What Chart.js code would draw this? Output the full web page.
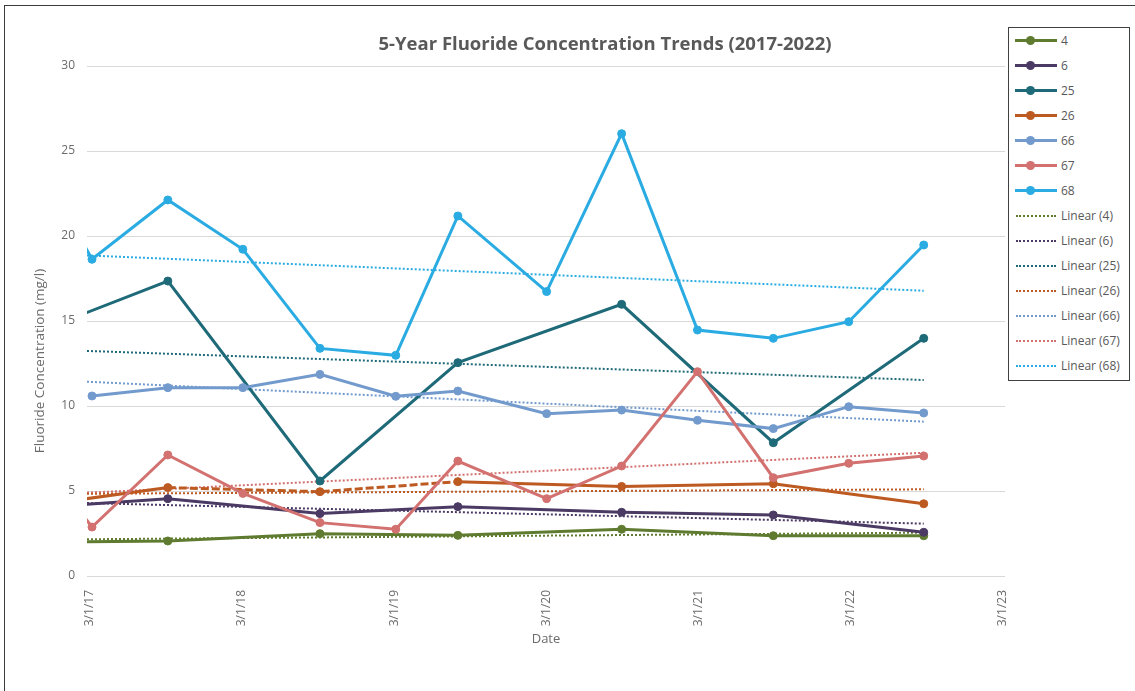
<!DOCTYPE html>
<html>
<head>
<meta charset="utf-8">
<script src="https://cdn.jsdelivr.net/npm/chart.js@4.4.1/dist/chart.umd.min.js"></script>
<style>
  html, body { margin: 0; padding: 0; background: #fff; overflow: hidden; }
  #wrap { position: relative; width: 1135px; height: 691px; }
  #frame { position: absolute; left: 4px; top: 5px; width: 1140px; height: 700px; border: 1px solid #3c3c3c; box-sizing: border-box; pointer-events: none; }
  #legend { position: absolute; left: 1008px; top: 27px; width: 122px; height: 354px; border: 1px solid #404040; box-sizing: border-box; background: #fff; font: 12px "Open Sans", sans-serif; color: #595959; }
  .row { position: relative; height: 25px; }
  .row .lab { position: absolute; left: 52px; top: 0; line-height: 25px; white-space: nowrap; }
  .row .ln { position: absolute; left: 6px; top: 11px; width: 42px; height: 3px; }
  .row .dot { position: absolute; left: 17px; top: 8px; width: 9px; height: 9px; border-radius: 50%; }
  .row .dl { position: absolute; left: 7px; top: 12px; width: 40px; height: 0; border-top: 2px dotted; }
</style>
</head>
<body>
<div id="wrap">
  <canvas id="myChart" width="1135" height="691"></canvas>
  <div id="legend"></div>
  <div id="frame"></div>
</div>
<script>
// 採取日 (春・秋) と 秋のみ
const springFallDates = ['2017-03-06', '2017-09-04', '2018-03-03', '2018-09-04', '2019-03-05', '2019-08-01',
                         '2020-03-01', '2020-08-28', '2021-02-26', '2021-08-27', '2022-02-24', '2022-08-23'];
const earlyDates = ['2017-01-24'].concat(springFallDates);
const fallDates = ['2016-09-01', '2017-09-04', '2018-09-04', '2019-08-01', '2020-08-28', '2021-08-27', '2022-08-23'];

const tickDates = ['2017-03-01', '2018-03-01', '2019-03-01', '2020-03-01', '2021-03-01', '2022-03-01', '2023-03-01'];
const tickLabels = ['3/1/17', '3/1/18', '3/1/19', '3/1/20', '3/1/21', '3/1/22', '3/1/23'];
const yTicks = [0, 5, 10, 15, 20, 25, 30];

const wellNames = ['4', '6', '25', '26', '66', '67', '68'];
const well4 = [1.98, 2.06, 2.49, 2.39, 2.75, 2.37, 2.37];
const well6 = [3.92, 4.55, 3.67, 4.08, 3.75, 3.59, 2.57];
const well25 = [13.84, 17.35, 5.59, 12.55, 15.98, 7.84, 13.98];
const well26 = [3.97, 5.2, 4.96, 5.55, 5.27, 5.43, 4.25];
const well66 = [10.59, 11.08, 11.08, 11.86, 10.57, 10.88, 9.55, 9.76, 9.16, 8.67, 9.96, 9.59];
const well67 = [4.18, 2.88, 7.12, 4.86, 3.14, 2.75, 6.76, 4.55, 6.47, 12.02, 5.78, 6.63, 7.06];
const well68 = [20.46, 18.63, 22.12, 19.22, 13.39, 12.98, 21.18, 16.73, 26.02, 14.47, 13.98, 14.96, 19.47];

// 近似直線 (左端の値, 最後の値)
const trendStart = [2.16, 4.29, 13.24, 4.84, 11.43, 4.9, 18.86];
const trendEnd = [2.55, 3.08, 11.53, 5.1, 9.08, 7.25, 16.78];

const colors = ['#5f7b30', '#4b3a63', '#1e6a79', '#bd5a22', '#729acd', '#d2716f', '#2aabe2'];

const toTime = d => Date.parse(d + 'T00:00:00Z');
const xMin = toTime('2017-02-22');
const xMax = toTime('2023-03-06');
const lastDate = toTime('2022-08-23');

const seriesDates = [fallDates, fallDates, fallDates, fallDates, springFallDates, earlyDates, earlyDates];
const seriesValues = [well4, well6, well25, well26, well66, well67, well68];

const datasets = [];
wellNames.forEach((name, i) => {
  const ds = {
    label: name,
    kind: 'series',
    data: seriesValues[i].map((v, j) => ({ x: toTime(seriesDates[i][j]), y: v })),
    borderColor: colors[i],
    backgroundColor: colors[i],
    borderWidth: 3,
    pointRadius: 4,
    pointBorderWidth: 1,
    pointHoverRadius: 4,
    tension: 0,
    order: -i,
    clip: { left: 0, top: 8, right: 8, bottom: 8 }
  };
  if (name === '26') {
    // 2017秋〜2019夏の区間は破線
    ds.segment = { borderDash: c => (c.p0DataIndex === 1 || c.p0DataIndex === 2) ? [8, 3] : undefined };
  }
  datasets.push(ds);
});
wellNames.forEach((name, i) => {
  datasets.push({
    label: 'Linear (' + name + ')',
    kind: 'trend',
    data: [{ x: xMin, y: trendStart[i] }, { x: lastDate, y: trendEnd[i] }],
    borderColor: colors[i],
    backgroundColor: colors[i],
    borderWidth: 2,
    borderDash: [2, 2],
    pointRadius: 0,
    order: 100
  });
});

const textColor = '#6b6b6b';
const titlePlugin = {
  id: 'chartTexts',
  afterDraw(chart) {
    const c = chart.ctx;
    c.save();
    c.fillStyle = '#595959';
    c.textAlign = 'center';
    c.textBaseline = 'middle';
    c.font = 'bold 18.5px "Open Sans"';
    c.fillText('5-Year Fluoride Concentration Trends (2017-2022)', 605, 45);
    c.fillStyle = textColor;
    c.translate(40, 361);
    c.rotate(-Math.PI / 2);
    c.font = '13.5px "Open Sans"';
    c.fillText('Fluoride Concentration (mg/l)', 0, 0);
    c.restore();
  }
};

const ctx = document.getElementById('myChart').getContext('2d');
const chart = new Chart(ctx, {
  type: 'line',
  data: { datasets: datasets },
  plugins: [titlePlugin],
  options: {
    responsive: false,
    animation: false,
    layout: { padding: { top: 66, right: 130, bottom: 0, left: 0 } },
    plugins: { legend: { display: false }, tooltip: { enabled: false } },
    scales: {
      x: {
        type: 'linear',
        min: xMin,
        max: xMax,
        afterBuildTicks: s => { s.ticks = tickDates.map(d => ({ value: toTime(d) })); },
        afterFit: s => { s.height = 115; },
        grid: { display: false },
        border: { display: false },
        ticks: {
          autoSkip: false,
          minRotation: 90,
          maxRotation: 90,
          padding: 6,
          color: textColor,
          font: { family: 'Open Sans', size: 12 },
          callback: (v, i) => tickLabels[i]
        },
        title: {
          display: true,
          text: 'Date',
          color: textColor,
          font: { family: 'Open Sans', size: 13 },
          padding: { top: 0, bottom: 44 }
        }
      },
      y: {
        min: 0,
        max: 30,
        afterBuildTicks: s => { s.ticks = yTicks.map(v => ({ value: v })); },
        afterFit: s => { s.width = 87; },
        grid: { color: '#d9d9d9', drawTicks: false },
        border: { display: false },
        ticks: {
          padding: 12,
          color: textColor,
          font: { family: 'Open Sans', size: 12 }
        }
      }
    }
  }
});

// 凡例 (HTML)
const legendEl = document.getElementById('legend');
chart.data.datasets.forEach(ds => {
  const row = document.createElement('div');
  row.className = 'row';
  if (ds.kind === 'series') {
    row.innerHTML = '<span class="ln" style="background:' + ds.borderColor + '"></span>' +
                    '<span class="dot" style="background:' + ds.borderColor + '"></span>';
  } else {
    row.innerHTML = '<span class="dl" style="border-color:' + ds.borderColor + '"></span>';
  }
  const lab = document.createElement('span');
  lab.className = 'lab';
  lab.textContent = ds.label;
  row.appendChild(lab);
  legendEl.appendChild(row);
});
</script>
</body>
</html>
